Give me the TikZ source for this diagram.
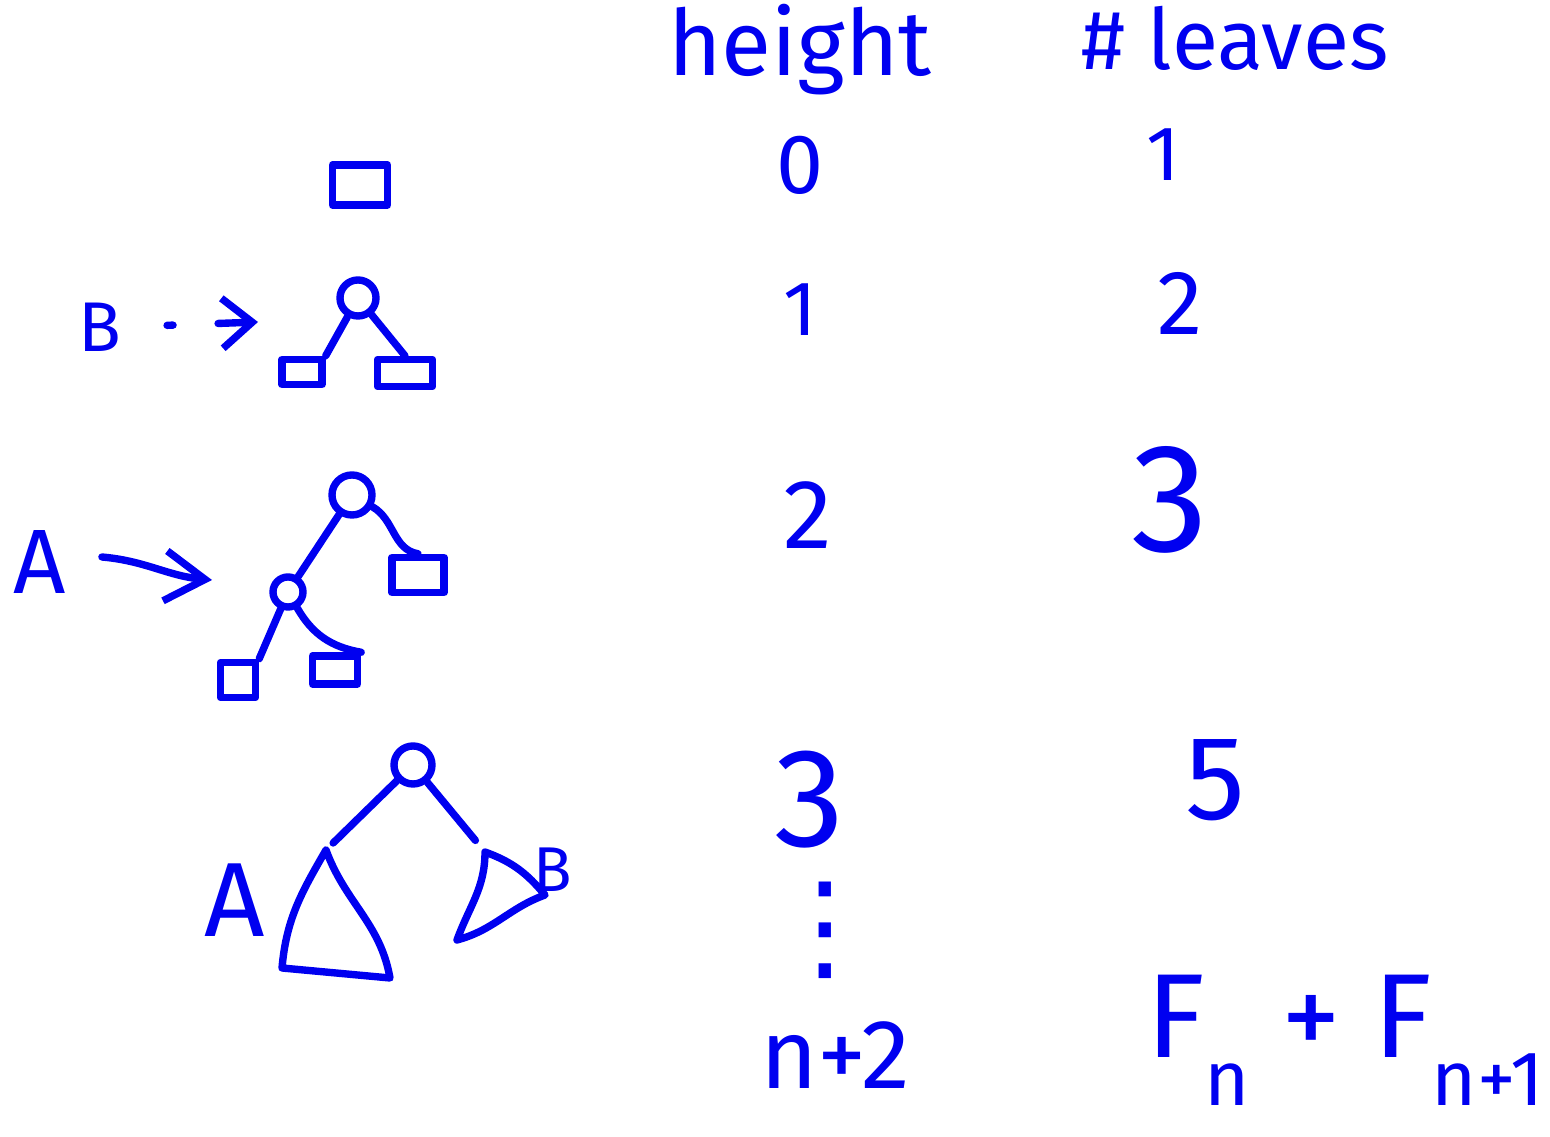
\documentclass[tikz,border=0pt]{standalone}
\usepackage{fontspec}
\setmainfont{Fira Sans}
\newfontfamily\symfont{DejaVu Sans}
\usetikzlibrary{positioning,arrows.meta}
\definecolor{pen}{HTML}{0000F0}
\newcommand{\lowidx}[1]{\raisebox{-0.4em}{\fontsize{22pt}{22pt}\selectfont #1}}
\tikzset{
  every node/.style={text=pen},
  stroke/.style={draw=pen, line width=2.1pt, line cap=round, line join=round},
  leaf/.style={stroke, rectangle, inner sep=0pt},
  inner/.style={stroke, circle, inner sep=0pt, minimum size=#1},
  inner/.default=3.4mm,
  val/.style={font=\fontsize{#1}{#1}\selectfont, inner sep=0pt},
  arr/.style={stroke, -{Straight Barb[length=#1,width=5mm,line width=2.1pt]}},
  arr/.default=4mm,
}

\begin{document}
\begin{tikzpicture}[x=0.01cm,y=-0.01cm]
\useasboundingbox (0,0) rectangle (1550,1137);

% ---------------- column heads ----------------
\node[val=26pt] (hhead) at (800,50) {height};
\node[val=24pt] (lhead) at (1235,38) {\# leaves};

% ---------------- height column ----------------
\node[val=24pt] (h0) at (800,165) {0};
\node[val=22pt] (h1) at (800,310) {1};
\node[val=28pt] (h2) at (808,515) {2};
\node[val=40pt] (h3) at (810,800) {3};
\node[val=34pt] (hdots) at (825,930) {\symfont ⋮};
\node[val=28pt] (hn) at (835,1055) {n+2};

% ---------------- leaves column ----------------
\node[val=22pt] (n0) at (1163,155) {1};
\node[val=26pt] (n1) at (1180,303) {2};
\node[val=44pt] (n2) at (1170,500) {3};
\node[val=34pt] (n3) at (1215,780) {5};
\node[val=34pt] (nn) at (1345,1040) {F\lowidx{n} + F\lowidx{n+1}};

% ---------------- height 0 ----------------
\node[leaf, minimum width=5.5mm, minimum height=4mm] (s0) at (360,185) {};

% ---------------- height 1 ----------------
\node[val=20pt] (B1) at (100,327) {B};
\coordinate (B1to) at (258,322);
\draw[arr=3mm, dash pattern=on 0.6mm off 4.5mm on 4mm, shorten <=4.5mm] (B1.east) -- (B1to);

\node[inner=3.6mm] (r1) at (358,298) {};
\node[leaf, minimum width=4mm, minimum height=2.5mm] (r1a) at (302,372) {};
\node[leaf, minimum width=5.5mm, minimum height=2.7mm] (r1b) at (405,373) {};
\draw[stroke] (r1) -- (r1a.north east);
\draw[stroke] (r1) -- (r1b.north);

% ---------------- height 2 ----------------
\node[val=26pt] (A2) at (40,562) {A};
\coordinate (A2to) at (212,580);
\draw[arr] (A2.east) ++(3.5mm,0.5mm) to[out=-5,in=175] (A2to);

\node[inner=4mm] (r2) at (352,495) {};
\node[inner=3mm] (c2) at (288,592) {};
\node[leaf, minimum width=5.2mm, minimum height=3.5mm] (r2b) at (418,575) {};
\node[leaf, minimum width=3.5mm, minimum height=3.5mm] (c2a) at (238,680) {};
\node[leaf, minimum width=4.5mm, minimum height=2.8mm] (c2b) at (335,670) {};
\draw[stroke] (r2) -- (c2);
\draw[stroke] (r2) to[out=-30,in=170] (r2b.north);
\draw[stroke] (c2) -- (c2a.north east);
\draw[stroke] (c2) to[out=-60,in=170] (c2b.north east);

% ---------------- height 3 ----------------
\node[inner=3.8mm] (r3) at (413,765) {};
\coordinate (tA) at (326,850);
\coordinate (tAl) at (282,968);
\coordinate (tAr) at (390,978);
\coordinate (tB) at (485,852);
\coordinate (tBr) at (545,895);
\coordinate (tBl) at (457,940);
\draw[stroke] (tA) to[out=-120,in=85] (tAl) -- (tAr) to[out=100,in=-70] (tA);
\draw[stroke] (tB) to[out=-20,in=130] (tBr) to[out=200,in=15] (tBl) to[out=70,in=-90] (tB);
\draw[stroke, shorten >=1mm] (r3) -- (tA);
\draw[stroke, shorten >=1.5mm] (r3) -- (tB);
\node[val=30pt] (A3) at (235,900) {A};
\node[val=18pt] (B3) at (553,870) {B};

\end{tikzpicture}
\end{document}
